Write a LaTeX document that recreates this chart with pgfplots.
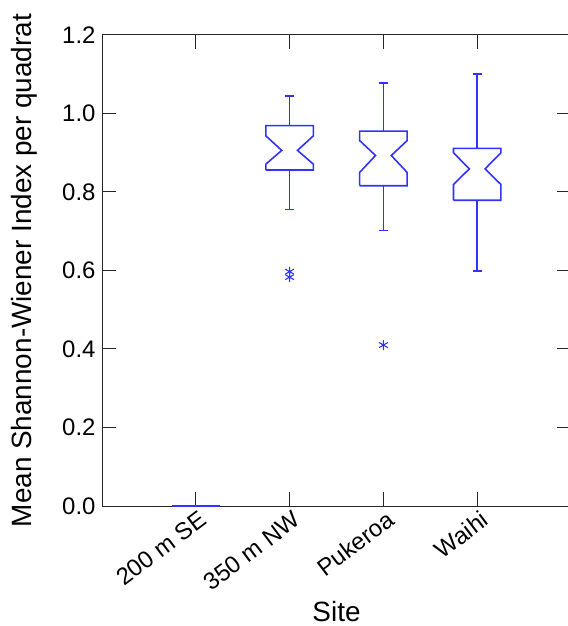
\documentclass[border=0pt]{standalone}
\usepackage{fontspec}
\setmainfont{Liberation Sans}
\usepackage{pgfplots}
\pgfplotsset{compat=1.18}
\definecolor{boxblue}{RGB}{50,50,255}
\begin{document}
\begin{tikzpicture}
\begin{axis}[
  at={(0,0)}, anchor=south west,
  scale only axis, width=469bp, height=471bp,
  xmin=0, xmax=5, ymin=0, ymax=1.2,
  clip=false, set layers=standard,
  xtick={1,2,3,4},
  xticklabels={200 m SE, 350 m NW, Pukeroa, Waihi},
  ytick={0,0.2,0.4,0.6,0.8,1.0,1.2},
  /pgf/number format/assume math mode=true,
  yticklabel style={/pgf/number format/fixed, /pgf/number format/fixed zerofill, /pgf/number format/precision=1, xshift=-3bp},
  ticklabel style={font=\fontsize{24}{28}\selectfont},
  xticklabel style={rotate=37, anchor=north east, xshift=3bp, yshift=-1bp},
  tick align=inside, major tick length=14bp,
  xtick pos=both, ytick pos=both,
  axis line style={black!85, line width=1bp},
  tick style={black!85, line width=1bp},
  label style={font=\fontsize{28}{32}\selectfont},
  xlabel={Site},
  ylabel={Mean Shannon-Wiener Index per quadrat},
  xlabel style={at={(axis description cs:0.5,-0.245)}, anchor=base},
  ylabel style={at={(axis description cs:-0.150,0.5)}, anchor=base, rotate=0},
  bx/.style={color=boxblue, line width=1.6bp, mark=none, solid},
  om/.style={color=boxblue, only marks, mark=asterisk, mark size=5bp, line width=1.1bp},
  unbounded coords=jump,
]
% 200 m SE (all zero)
\addplot[bx, /pgfplots/on layer=axis foreground, line width=2bp] coordinates {(0.747,0) (1.253,0)};
% 350 m NW
\addplot[bx] coordinates {(1.747,0.856) (2.253,0.856) (2.253,0.871) (2.084,0.906) (2.253,0.943) (2.253,0.969) (1.747,0.969) (1.747,0.943) (1.916,0.906) (1.747,0.871) (1.747,0.856)};
\addplot[bx] coordinates {(2,0.969) (2,1.044) (nan,nan) (1.95,1.044) (2.05,1.044) (nan,nan) (2,0.856) (2,0.755) (nan,nan) (1.95,0.755) (2.05,0.755)};
\addplot[om] coordinates {(2,0.597) (2,0.583)};
% Pukeroa
\addplot[bx] coordinates {(2.747,0.816) (3.253,0.816) (3.253,0.850) (3.084,0.893) (3.253,0.931) (3.253,0.955) (2.747,0.955) (2.747,0.931) (2.916,0.893) (2.747,0.850) (2.747,0.816)};
\addplot[bx] coordinates {(3,0.955) (3,1.078) (nan,nan) (2.95,1.078) (3.05,1.078) (nan,nan) (3,0.816) (3,0.702) (nan,nan) (2.95,0.702) (3.05,0.702)};
\addplot[om] coordinates {(3,0.410)};
% Waihi
\addplot[bx] coordinates {(3.747,0.779) (4.253,0.779) (4.253,0.819) (4.084,0.859) (4.253,0.900) (4.253,0.911) (3.747,0.911) (3.747,0.900) (3.916,0.859) (3.747,0.819) (3.747,0.779)};
\addplot[bx] coordinates {(4,0.911) (4,1.101) (nan,nan) (3.95,1.101) (4.05,1.101) (nan,nan) (4,0.779) (4,0.599) (nan,nan) (3.95,0.599) (4.05,0.599)};
\end{axis}
\pgfresetboundingbox
\path (-102bp,-120bp) rectangle (466bp,506bp);
\end{tikzpicture}
\end{document}
